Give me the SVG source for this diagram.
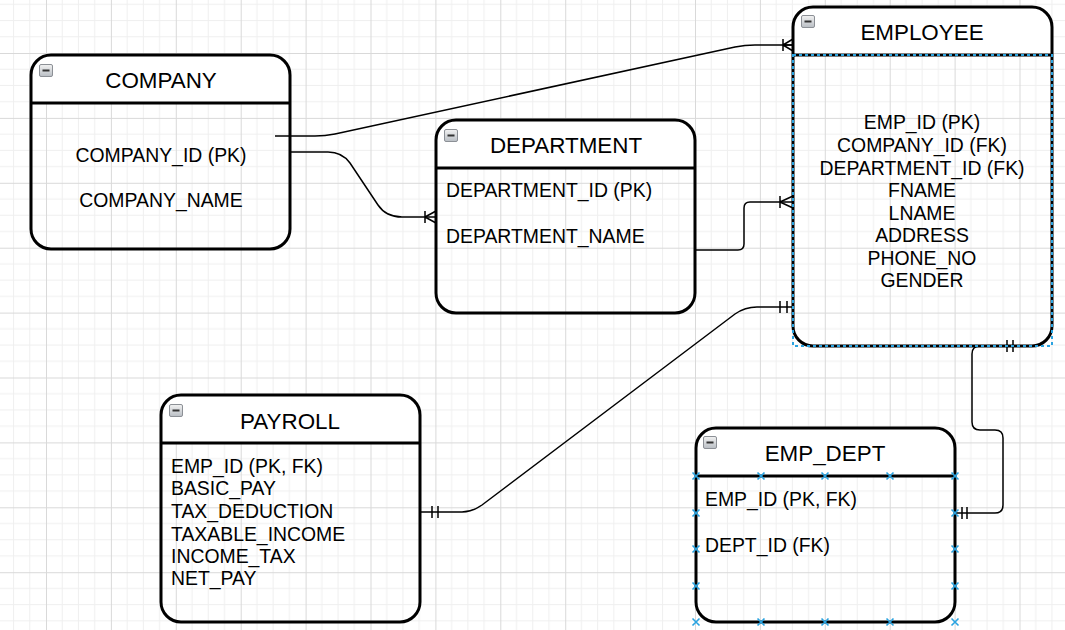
<svg xmlns="http://www.w3.org/2000/svg" width="1065" height="630" viewBox="0 0 1065 630">
<defs>
<pattern id="grid" patternUnits="userSpaceOnUse" x="46" y="53" width="64.9" height="64.9">
<path d="M16.225 0V64.9M32.45 0V64.9M48.675 0V64.9M0 16.225H64.9M0 32.45H64.9M0 48.675H64.9" stroke="#efefef" stroke-width="1" fill="none"/>
<path d="M0.5 0V64.9M0 0.5H64.9" stroke="#d9d9d9" stroke-width="1" fill="none"/>
</pattern>
<linearGradient id="ig" x1="0" y1="0" x2="0" y2="1">
<stop offset="0" stop-color="#f2f2f2"/>
<stop offset="1" stop-color="#b9bec4"/>
</linearGradient>
<g id="icon">
<rect x="0.5" y="0.5" width="13" height="12" rx="1.5" fill="url(#ig)" stroke="#8c9096" stroke-width="1"/>
<path d="M3.5 6.5H10.5" stroke="#333" stroke-width="2"/>
</g>
<g id="xm">
<path d="M-3.5 -3.5L3.5 3.5M-3.5 3.5L3.5 -3.5" stroke="#2aa3e0" stroke-width="1.6"/>
</g>
</defs>
<style>
.hd{fill:#fff;stroke:none}
.box{fill:none;stroke:#000;stroke-width:3}
.sep{stroke:#000;stroke-width:3}
.ttl{font-family:"Liberation Sans",Arial,sans-serif;font-size:22.4px;fill:#000;text-anchor:middle}
.txt{font-family:"Liberation Sans",Arial,sans-serif;font-size:19.4px;fill:#000}
.mid{text-anchor:middle}
.cn{fill:none;stroke:#000;stroke-width:1.5}
</style>
<rect width="1065" height="630" fill="#fff"/>
<rect width="1065" height="630" fill="url(#grid)"/>

<g id="connectors">
<path class="cn" d="M275 136L315 136Q325 136 335 134L735 47Q745 45 755 45L793 45"/>
<path class="cn" d="M783 39V51M783 45L793 39M783 45L793 51M783 45H793"/>
<path class="cn" d="M290 152L328 152Q342 152 350 163L378 205Q386 217 402 217L436 217"/>
<path class="cn" d="M425 211V223M425 217L436 211M425 217L436 223"/>
<path class="cn" d="M695 250L738 250Q744 250 744 244L744 208Q744 202 750 202L793 202"/>
<path class="cn" d="M780 196V208M780 202L793 196M780 202L793 208"/>
<path class="cn" d="M420 512L462 512Q472 512 482 505L735 314Q745 307 757 307L793 307"/>
<path class="cn" d="M780 301V313M787 301V313M432 506V518M438 506V518"/>
<path class="cn" d="M1020 346L980 346Q972 346 972 354L972 422Q972 430 980 430L995 430Q1003 430 1003 438L1003 505Q1003 513 995 513L955 513"/>
<path class="cn" d="M1007 340V352M1013 340V352M962 507V519M967 507V519"/>
</g>

<g id="company">
<path class="hd" d="M31 103V75A20 20 0 0 1 51 55H270A20 20 0 0 1 290 75V103Z"/>
<rect class="box" x="31" y="55" width="259" height="194" rx="20"/>
<path class="sep" d="M31 103H290"/>
<use href="#icon" x="39" y="64"/>
<text class="ttl" x="161" y="88">COMPANY</text>
<text class="txt mid" x="161" y="162">COMPANY_ID (PK)</text>
<text class="txt mid" x="161" y="207">COMPANY_NAME</text>
</g>

<g id="department">
<path class="hd" d="M436 168V140A20 20 0 0 1 456 120H675A20 20 0 0 1 695 140V168Z"/>
<rect class="box" x="436" y="120" width="259" height="193" rx="20"/>
<path class="sep" d="M436 168H695"/>
<use href="#icon" x="444" y="129"/>
<text class="ttl" x="566" y="153">DEPARTMENT</text>
<text class="txt" x="446" y="197">DEPARTMENT_ID (PK)</text>
<text class="txt" x="446" y="243">DEPARTMENT_NAME</text>
</g>

<g id="employee">
<path class="hd" d="M793 55V27A20 20 0 0 1 813 7H1032A20 20 0 0 1 1052 27V55Z"/>
<rect class="box" x="793" y="7" width="259" height="339" rx="20"/>
<path class="sep" d="M793 55H1052"/>
<rect x="793" y="55" width="259" height="291" fill="none" stroke="#2aa3e0" stroke-width="2" stroke-dasharray="3 3"/>
<use href="#icon" x="801" y="15"/>
<text class="ttl" x="922" y="40">EMPLOYEE</text>
<text class="txt mid" x="922" y="129">EMP_ID (PK)</text>
<text class="txt mid" x="922" y="152">COMPANY_ID (FK)</text>
<text class="txt mid" x="922" y="175">DEPARTMENT_ID (FK)</text>
<text class="txt mid" x="922" y="197">FNAME</text>
<text class="txt mid" x="922" y="220">LNAME</text>
<text class="txt mid" x="922" y="242">ADDRESS</text>
<text class="txt mid" x="922" y="265">PHONE_NO</text>
<text class="txt mid" x="922" y="287">GENDER</text>
</g>

<g id="payroll">
<path class="hd" d="M161 443V415A20 20 0 0 1 181 395H400A20 20 0 0 1 420 415V443Z"/>
<rect class="box" x="161" y="395" width="259" height="227" rx="20"/>
<path class="sep" d="M161 443H420"/>
<use href="#icon" x="169" y="404"/>
<text class="ttl" x="290" y="429">PAYROLL</text>
<text class="txt" x="171" y="473">EMP_ID (PK, FK)</text>
<text class="txt" x="171" y="495">BASIC_PAY</text>
<text class="txt" x="171" y="518">TAX_DEDUCTION</text>
<text class="txt" x="171" y="541">TAXABLE_INCOME</text>
<text class="txt" x="171" y="563">INCOME_TAX</text>
<text class="txt" x="171" y="585">NET_PAY</text>
</g>

<g id="emp_dept">
<path class="hd" d="M696 476V448A20 20 0 0 1 716 428H935A20 20 0 0 1 955 448V476Z"/>
<rect class="box" x="696" y="428" width="259" height="194" rx="20"/>
<path class="sep" d="M696 476H955"/>
<use href="#icon" x="703" y="436"/>
<text class="ttl" x="825" y="461">EMP_DEPT</text>
<text class="txt" x="705" y="506">EMP_ID (PK, FK)</text>
<text class="txt" x="705" y="552">DEPT_ID (FK)</text>
<use href="#xm" x="696" y="476"/><use href="#xm" x="761" y="476"/><use href="#xm" x="825" y="476"/><use href="#xm" x="890" y="476"/><use href="#xm" x="955" y="476"/>
<use href="#xm" x="696" y="513"/><use href="#xm" x="696" y="549"/><use href="#xm" x="696" y="586"/>
<use href="#xm" x="955" y="513"/><use href="#xm" x="955" y="549"/><use href="#xm" x="955" y="586"/>
<use href="#xm" x="696" y="622"/><use href="#xm" x="761" y="622"/><use href="#xm" x="825" y="622"/><use href="#xm" x="890" y="622"/><use href="#xm" x="955" y="622"/>
</g>
</svg>
